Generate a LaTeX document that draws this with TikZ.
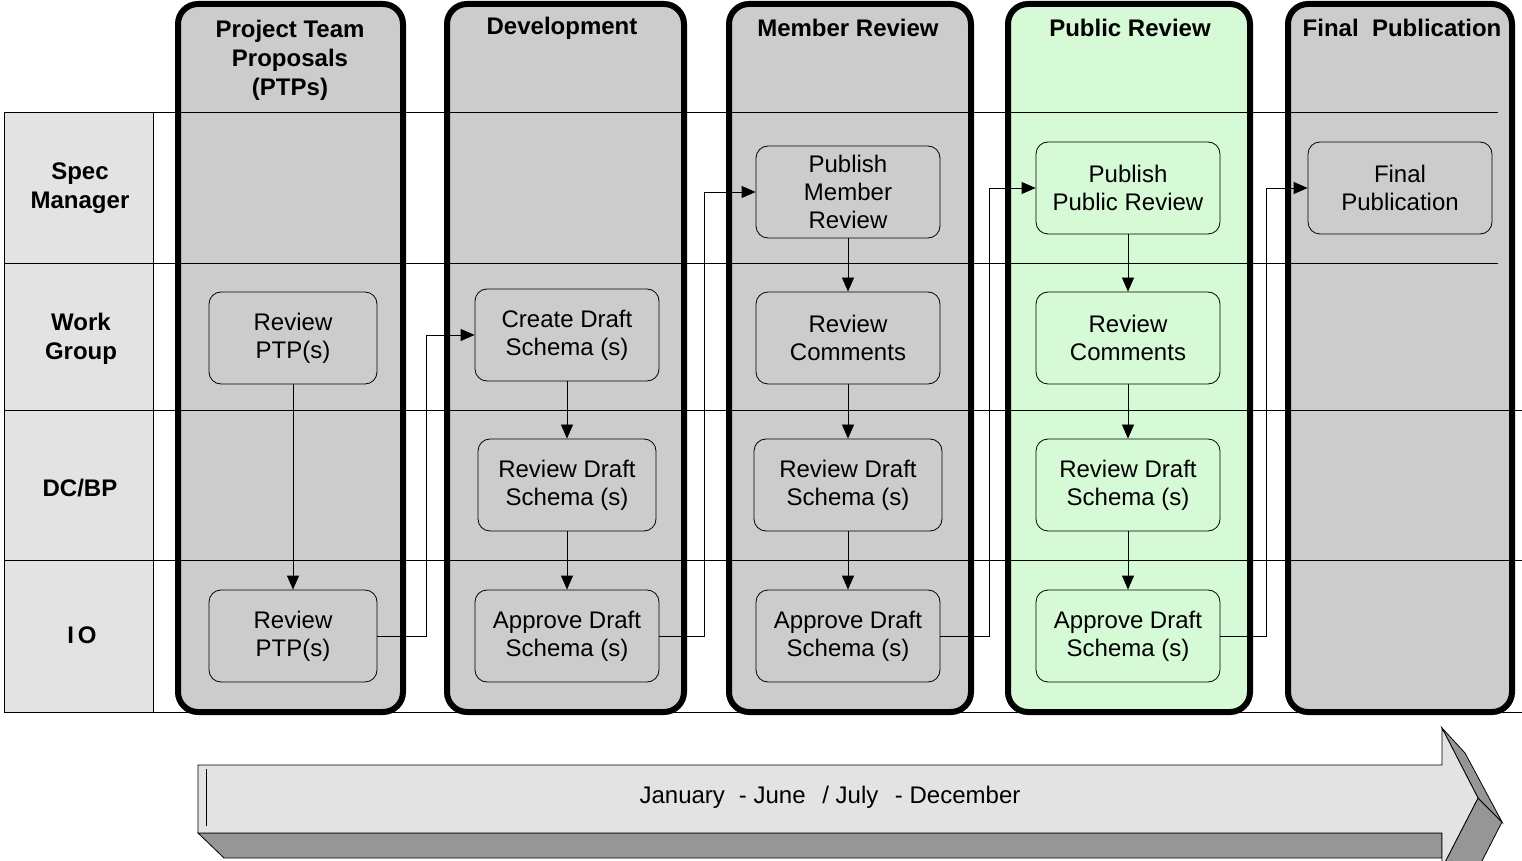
\documentclass[tikz,border=0pt]{standalone}
\usepackage{fontspec}
\setmainfont{Liberation Sans}
\usepackage{tikz}
\usetikzlibrary{arrows.meta}
\definecolor{phasegray}{RGB}{204,204,204}
\definecolor{phasegreen}{RGB}{214,250,214}
\definecolor{lanegray}{RGB}{227,227,227}
\definecolor{shadegray}{RGB}{150,150,150}
\def\phasecol#1#2#3{\draw[line width=3pt,fill=#3,rounded corners=10pt] (#1,400) -- (#1,4) -- (#2,4) -- (#2,712) -- (#1,712) -- cycle;}

\begin{document}
\begin{tikzpicture}[x=0.5pt,y=-0.5pt,
    task/.style={draw,thin,rounded corners=6pt,align=center,minimum width=92pt,minimum height=46pt,
      font=\fontsize{12}{14}\selectfont},
    head/.style={align=center,font=\bfseries\fontsize{12}{14.5}\selectfont},
    lane/.style={align=center,font=\bfseries\fontsize{12}{14.5}\selectfont},
    flow/.style={thin,-{Triangle[length=7pt,width=6pt]}}]
  \useasboundingbox (0,0) rectangle (1522,861);
  % lanes
  \draw[fill=lanegray] (4,112) rectangle (153,712);
  \phasecol{178}{403}{phasegray}
  \phasecol{447}{684}{phasegray}
  \phasecol{729}{971}{phasegray}
  \phasecol{1008}{1250}{phasegreen}
  \phasecol{1288}{1512}{phasegray}
  \draw (4,112) -- (1498,112) (4,263) -- (1498,263);
  \foreach \y in {410,560,712} \draw (4,\y) -- (1522,\y);
  \draw (153,112) -- (153,712);
  \node[lane] (sm) at (80,188) {Spec\\Manager};
  \node[lane] (wg) at (81,339) {Work\\Group};
  \node[lane] (dc) at (80,488) {DC/BP};
  \node[lane] (io) at (82,635) {I\kern2pt O};
  % phase titles
  \node[head,anchor=north] (ptp) at (290,13) {Project Team\\Proposals\\(PTPs)};
  \node[head] (dev) at (562,28) {Development};
  \node[head] (mr) at (848,28) {Member Review};
  \node[head] (pr) at (1130,28) {Public Review};
  \node[head] (fp) at (1402,28) {Final~ Publication};
  % tasks
  \node[task,minimum width=84pt] (ptpwg) at (293,338) {Review\\PTP(s)};
  \node[task,minimum width=84pt] (ptpio) at (293,636) {Review\\PTP(s)};
  \node[task] (devwg) at (567,335) {Create Draft\\Schema (s)};
  \node[task,minimum width=89pt] (devdc) at (567,485) {Review Draft\\Schema (s)};
  \node[task] (devio) at (567,636) {Approve Draft\\Schema (s)};
  \node[task] (mrsm) at (848,192) {Publish\\Member\\Review};
  \node[task] (mrwg) at (848,338) {Review\\Comments};
  \node[task,minimum width=94pt] (mrdc) at (848,485) {Review Draft\\Schema (s)};
  \node[task] (mrio) at (848,636) {Approve Draft\\Schema (s)};
  \node[task] (prsm) at (1128,188) {Publish\\Public Review};
  \node[task] (prwg) at (1128,338) {Review\\Comments};
  \node[task] (prdc) at (1128,485) {Review Draft\\Schema (s)};
  \node[task] (prio) at (1128,636) {Approve Draft\\Schema (s)};
  \node[task] (fpsm) at (1400,188) {Final\\Publication};
  % flow
  \draw[flow] (ptpwg) -- (ptpio);
  \draw[flow] (ptpio.east) -- ++(49,0) |- (devwg.west);
  \draw[flow] (devwg) -- (devdc);
  \draw[flow] (devdc) -- (devio);
  \draw[flow] (devio.east) -- ++(45,0) |- (mrsm.west);
  \draw[flow] (mrsm) -- (mrwg);
  \draw[flow] (mrwg) -- (mrdc);
  \draw[flow] (mrdc) -- (mrio);
  \draw[flow] (mrio.east) -- ++(49,0) |- (prsm.west);
  \draw[flow] (prsm) -- (prwg);
  \draw[flow] (prwg) -- (prdc);
  \draw[flow] (prdc) -- (prio);
  \draw[flow] (prio.east) -- ++(46,0) |- (fpsm.west);
  % time line
  \draw[fill=shadegray] (198,833) -- (1442,833) -- (1442,858) -- (224,858) -- cycle;
  \draw[fill=shadegray] (1478,798) -- (1502,822) -- (1466,892) -- (1442,868) -- cycle;
  \draw[fill=shadegray] (1442,728) -- (1465,753) -- (1502,822) -- (1478,798) -- cycle;
  \draw[fill=lanegray] (198,765) -- (1442,765) -- (1442,728) -- (1478,798) -- (1442,868) -- (1442,833) -- (198,833) -- cycle;
  \draw (206,769) -- (206,826);
  \node[font=\fontsize{12}{14}\selectfont] (time) at (830,797)
    {January\hspace{7pt}- June\hspace{5pt} / July\hspace{5pt} - December};
\end{tikzpicture}
\end{document}
